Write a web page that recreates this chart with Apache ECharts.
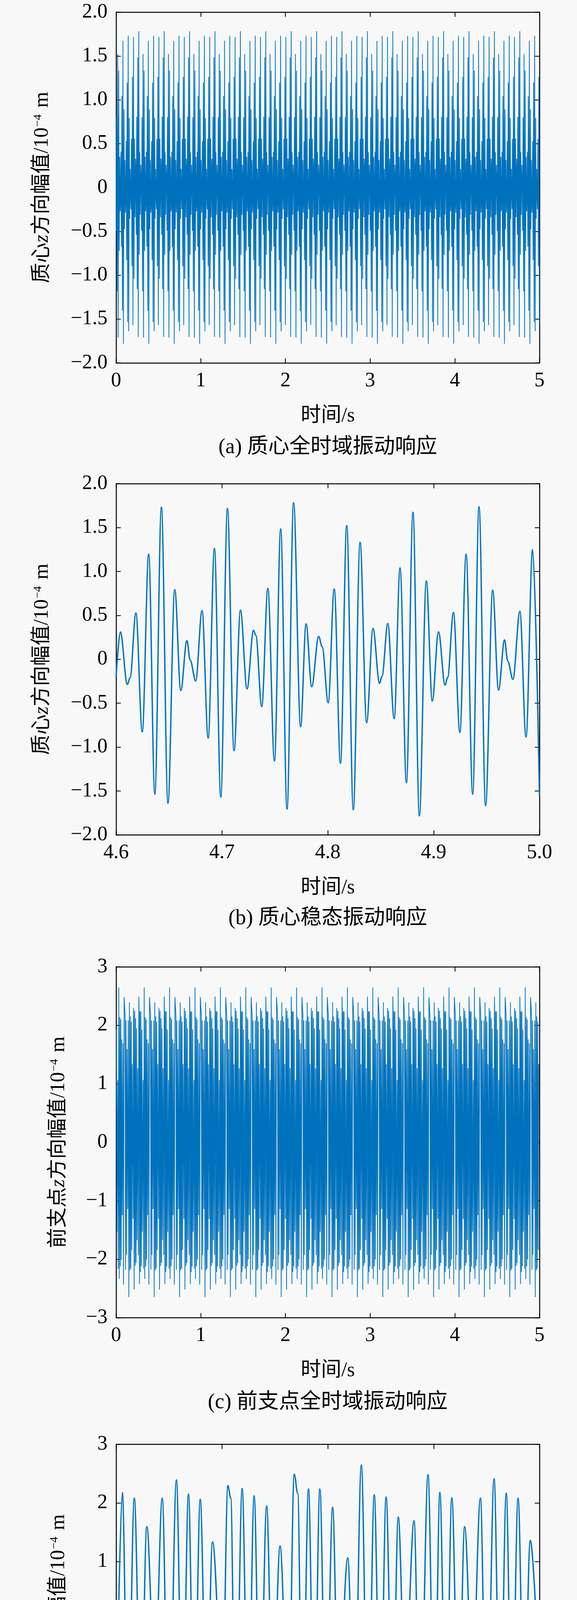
<!DOCTYPE html>
<html>
<head>
<meta charset="utf-8">
<script src="https://cdn.jsdelivr.net/npm/echarts@6/dist/echarts.min.js"></script>
<style>
html,body{margin:0;padding:0;background:#f8f8f8;}
#chart{width:1476px;height:4847px;}
</style>
</head>
<body>
<div id="chart"></div>
<script>
// ---------- data ----------
// (b) centre-of-mass steady-state response, extrema (time s, amplitude 1e-4 m)
var timeB = [4.600,4.604,4.6106,4.6132,4.6187,4.6247,4.6308,4.6366,4.6428,4.6490,
             4.6554,4.6611,4.6669,4.6700,4.6752,4.6812,4.6870,4.6929,4.6989,4.7052,
             4.7114,4.7175,4.7237,4.7298,4.7320,4.7376,4.7434,4.7496,4.7555,4.7615,
             4.7677,4.7743,4.7795,4.7848,4.7914,4.7947,4.8004,4.8061,4.8120,4.8179,
             4.8241,4.8305,4.8367,4.8427,4.8489,4.8512,4.8567,4.8627,4.8683,4.8743,
             4.8805,4.8865,4.8931,4.8987,4.9046,4.9108,4.9132,4.9187,4.9248,4.9307,
             4.9369,4.9429,4.9491,4.9558,4.9613,4.9670,4.9700,4.9749,4.9815,4.9873,
             4.9935,5.000];
var valueB = [-0.20,0.312,-0.286,-0.21,0.528,-0.827,1.197,-1.535,1.730,-1.639,
              0.793,-0.356,0.213,-0.01,-0.247,0.554,-0.897,1.262,-1.569,1.717,
              -1.041,0.559,-0.338,0.330,0.273,-0.539,0.806,-1.158,1.483,-1.704,
              1.782,-0.767,0.403,-0.312,0.260,0.143,-0.494,0.801,-1.184,1.522,
              -1.712,1.332,-0.723,0.351,-0.273,-0.195,0.408,-0.676,1.041,-1.405,
              1.673,-1.782,0.892,-0.476,0.312,-0.294,-0.208,0.533,-0.832,1.197,
              -1.535,1.735,-1.665,0.788,-0.351,0.221,-0.02,-0.229,0.546,-0.884,
              1.249,-1.56];

// (d) front-support-point steady-state response, extrema
var timeD = [4.600,4.6059,4.6112,4.6172,4.6234,4.6290,4.6366,4.6436,4.6498,4.6570,
             4.6627,4.6684,4.6737,4.6795,4.6854,4.6911,4.7006,4.7056,4.7083,4.7129,
             4.7191,4.7248,4.7304,4.7360,4.7422,4.7481,4.7549,4.7628,4.7683,4.7716,
             4.7760,4.7818,4.7871,4.7925,4.7983,4.8046,4.8100,4.8189,4.8251,4.8317,
             4.8380,4.8439,4.8496,4.8551,4.8611,4.8666,4.8730,4.8815,4.8872,4.8947,
             4.9007,4.9059,4.9116,4.9172,4.9235,4.9293,4.9367,4.9442,4.9501,4.9571,
             4.9629,4.9686,4.9739,4.9798,4.9855,4.9913,5.000];
var valueD = [-2.28,2.179,-2.179,2.082,-1.926,1.595,-1.140,2.082,-2.646,2.393,
              -2.191,2.152,-2.160,2.062,-1.840,1.335,-1.311,2.296,2.08,-2.518,
              2.245,-2.113,2.121,-2.062,1.946,-1.673,1.265,-1.926,2.490,2.16,
              -2.424,2.237,-2.218,2.237,-2.121,1.926,-1.529,1.062,-2.160,2.646,
              -2.335,2.140,-2.121,2.101,-2.004,1.759,-1.245,1.693,-2.432,2.482,
              -2.268,2.179,-2.171,2.089,-1.926,1.595,-1.167,2.082,-2.626,2.412,
              -2.198,2.167,-2.171,2.082,-1.856,1.362,-1.265];

// The steady-state records repeat with a period read from (b)/(d): 0.3 s
// (4.604 s <-> 4.9046 s, 4.6059 s <-> 4.9059 s). Panels (a)/(c) show the same
// response over the full 0-5 s record.
var periodStart = 4.6, periodEnd = 4.9, periodLen = 0.3, recordEnd = 5;

var xTicksFull = [0,1,2,3,4,5];
var xTicksSteady = [4.6,4.7,4.8,4.9,5.0];
var yTicksB = [-2.0,-1.5,-1.0,-0.5,0,0.5,1.0,1.5,2.0];
var yTicksD = [-3,-2,-1,0,1,2,3];

var panelTitles = ['(a) 质心全时域振动响应','(b) 质心稳态振动响应','(c) 前支点全时域振动响应','(d) 前支点稳态振动响应'];
var yNamesPrefix = ['质心','质心','前支点','前支点'];
var xName = '时间/s';

// ---------- build ----------
function pairs(t, v){ var o=[]; for(var i=0;i<t.length;i++) o.push([t[i], v[i]]); return o; }
function fullRecord(t, v){
  var o=[];
  for (var k=-1; k<=17; k++){
    for (var i=0;i<t.length;i++){
      if (t[i] > periodStart && t[i] < periodEnd){
        var tt = t[i] - (periodStart - 0.1) + periodLen*k;
        if (tt >= 0 && tt <= recordEnd) o.push([tt, v[i]]);
      }
    }
  }
  return o;
}

var FONT = "'Liberation Serif','Noto Sans CJK SC',serif";
var CJK = "'Liberation Serif','Noto Sans CJK SC',serif";
var LINE = '#0072BD';
var gridTops = [31, 1238, 2475, 3697.5];
var gridH = [898, 899.5, 898.5, 900];
var titleCenters = [1146, 2352, 3591, 4814];
var yNameGaps = [163, 163, 121, 121];

function minusFmt(dec){
  return function(v){
    if (Math.abs(v) < 1e-9) return '0';
    var s = Math.abs(v).toFixed(dec);
    return (v < 0 ? '\u2212' : '') + s;
  };
}

var grids=[], xAxes=[], yAxes=[], series=[], titles=[];
var specs = [
  {xmin:0, xmax:5, xint:1, xdec:0, ymin:-2, ymax:2, yint:0.5, ydec:1, data: fullRecord(timeB,valueB), full:true},
  {xmin:4.6, xmax:5.0, xint:0.1, xdec:1, ymin:-2, ymax:2, yint:0.5, ydec:1, data: pairs(timeB,valueB), full:false},
  {xmin:0, xmax:5, xint:1, xdec:0, ymin:-3, ymax:3, yint:1, ydec:0, data: fullRecord(timeD,valueD), full:true},
  {xmin:4.6, xmax:5.0, xint:0.1, xdec:1, ymin:-3, ymax:3, yint:1, ydec:0, data: pairs(timeD,valueD), full:false}
];

specs.forEach(function(s, i){
  grids.push({left:297, top:gridTops[i], width:1083, height:gridH[i], containLabel:false});
  var axisLine = {show:true, onZero:false, lineStyle:{color:'#000', width:2.5}};
  var tick = {show:true, inside:true, length:12, lineStyle:{color:'#000', width:2}};
  xAxes.push({
    type:'value', gridIndex:i, position:'bottom', min:s.xmin, max:s.xmax, interval:s.xint,
    axisLine:axisLine, axisTick:tick, splitLine:{show:false},
    axisLabel:{show:true, margin:20, color:'#000', fontSize:52, fontFamily:FONT, formatter:minusFmt(s.xdec)},
    name:xName, nameLocation:'middle', nameGap:110,
    nameTextStyle:{color:'#000', fontSize:52, fontFamily:CJK}
  });
  xAxes.push({
    type:'value', gridIndex:i, position:'top', min:s.xmin, max:s.xmax, interval:s.xint,
    axisLine:axisLine, axisTick:tick, splitLine:{show:false}, axisLabel:{show:false}
  });
  yAxes.push({
    type:'value', gridIndex:i, position:'left', min:s.ymin, max:s.ymax, interval:s.yint,
    axisLine:axisLine, axisTick:tick, splitLine:{show:false},
    axisLabel:{show:true, margin:22, color:'#000', fontSize:52, fontFamily:FONT, formatter:minusFmt(s.ydec)},
    name:'{t|'+yNamesPrefix[i]+'}{i|z}{t|方向幅值/10}{s|\u22124}{t| m}',
    nameLocation:'middle', nameRotate:90, nameGap:yNameGaps[i],
    nameTextStyle:{color:'#000', fontSize:52, fontFamily:CJK,
      rich:{
        t:{fontSize:52, fontFamily:CJK, color:'#000'},
        i:{fontSize:52, fontFamily:FONT, fontStyle:'italic', color:'#000'},
        s:{fontSize:30, fontFamily:FONT, color:'#000', verticalAlign:'top', padding:[0,4,0,2]}
      }}
  });
  yAxes.push({
    type:'value', gridIndex:i, position:'right', min:s.ymin, max:s.ymax, interval:s.yint,
    axisLine:axisLine, axisTick:tick, splitLine:{show:false}, axisLabel:{show:false}
  });
  series.push({
    type:'line', xAxisIndex:2*i, yAxisIndex:2*i, data:s.data,
    showSymbol:false, symbol:'none', sampling:null, clip:true,
    smooth: s.full ? false : 0.35, smoothMonotone: s.full ? undefined : 'x',
    lineStyle:{color:LINE, width: s.full ? 1.9 : 3.5},
    itemStyle:{color:LINE}, silent:true
  });
  titles.push({
    text:panelTitles[i], left:838.5, textAlign:'center', top:titleCenters[i]-27, padding:0,
    textStyle:{color:'#000', fontSize:54, lineHeight:54, fontWeight:'normal', fontFamily:CJK}
  });
});

var chart = echarts.init(document.getElementById('chart'), null, {renderer:'canvas', width:1476, height:4847});
chart.setOption({
  backgroundColor:'#f8f8f8',
  animation:false,
  title:titles,
  grid:grids,
  xAxis:xAxes,
  yAxis:yAxes,
  series:series
});
</script>
</body>
</html>
